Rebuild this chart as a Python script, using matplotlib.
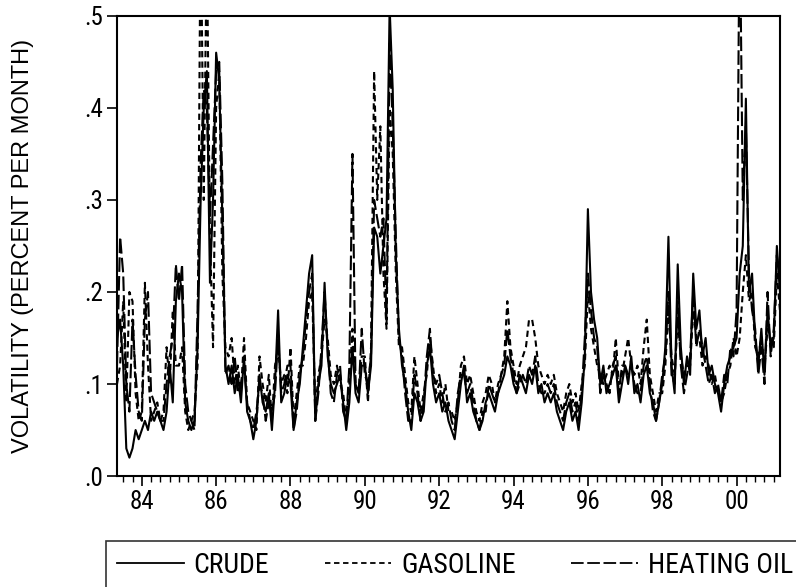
import matplotlib
matplotlib.use("Agg")
import matplotlib.pyplot as plt
import numpy as np
from matplotlib.lines import Line2D

# monthly volatility, May 1983 - Mar 2001
start_year = 1983 + 4 / 12

crude = [
    0.15, 0.17, 0.12, 0.03, 0.02, 0.03, 0.05, 0.04,                      # 83
    0.05, 0.06, 0.05, 0.07, 0.06, 0.07, 0.06, 0.05, 0.07, 0.12, 0.08, 0.19,  # 84
    0.22, 0.20, 0.08, 0.06, 0.05, 0.06, 0.14, 0.30, 0.40, 0.44, 0.21, 0.30,  # 85
    0.46, 0.43, 0.28, 0.12, 0.10, 0.12, 0.09, 0.11, 0.08, 0.13, 0.07, 0.06,  # 86
    0.04, 0.06, 0.11, 0.08, 0.07, 0.09, 0.05, 0.10, 0.18, 0.08, 0.09, 0.11,  # 87
    0.10, 0.05, 0.08, 0.10, 0.14, 0.18, 0.22, 0.24, 0.06, 0.10, 0.12, 0.21,  # 88
    0.13, 0.10, 0.09, 0.10, 0.11, 0.08, 0.05, 0.08, 0.14, 0.09, 0.08, 0.12,  # 89
    0.12, 0.09, 0.12, 0.27, 0.26, 0.22, 0.25, 0.28, 0.51, 0.42, 0.24, 0.16,  # 90
    0.12, 0.10, 0.07, 0.05, 0.09, 0.08, 0.06, 0.07, 0.12, 0.14, 0.10, 0.08,  # 91
    0.09, 0.07, 0.08, 0.06, 0.05, 0.04, 0.07, 0.10, 0.12, 0.08, 0.09, 0.07,  # 92
    0.06, 0.05, 0.06, 0.08, 0.09, 0.08, 0.07, 0.09, 0.10, 0.11, 0.13, 0.12,  # 93
    0.10, 0.09, 0.11, 0.10, 0.09, 0.11, 0.10, 0.12, 0.09, 0.10, 0.08, 0.09,  # 94
    0.08, 0.09, 0.07, 0.06, 0.05, 0.07, 0.08, 0.06, 0.07, 0.05, 0.08, 0.13,  # 95
    0.29, 0.20, 0.17, 0.15, 0.10, 0.12, 0.09, 0.10, 0.11, 0.12, 0.08, 0.10,  # 96
    0.12, 0.10, 0.13, 0.09, 0.10, 0.08, 0.11, 0.12, 0.09, 0.08, 0.06, 0.08,  # 97
    0.10, 0.14, 0.26, 0.12, 0.09, 0.23, 0.14, 0.10, 0.13, 0.11, 0.22, 0.16,  # 98
    0.18, 0.13, 0.15, 0.11, 0.12, 0.10, 0.09, 0.07, 0.10, 0.12, 0.13, 0.14,  # 99
    0.15, 0.22, 0.25, 0.41, 0.20, 0.22, 0.15, 0.12, 0.16, 0.11, 0.18, 0.14,  # 00
    0.15, 0.25, 0.20,                                                    # 01
]

gasoline = [
    0.10, 0.12, 0.19, 0.08, 0.20, 0.19, 0.09, 0.06,
    0.07, 0.21, 0.12, 0.06, 0.07, 0.08, 0.06, 0.07, 0.14, 0.10, 0.18, 0.12,
    0.12, 0.14, 0.07, 0.05, 0.06, 0.07, 0.12, 0.62, 0.30, 0.58, 0.26, 0.14,
    0.40, 0.44, 0.22, 0.14, 0.13, 0.15, 0.10, 0.12, 0.09, 0.15, 0.08, 0.07,
    0.06, 0.05, 0.13, 0.10, 0.08, 0.11, 0.06, 0.12, 0.14, 0.10, 0.11, 0.09,
    0.14, 0.06, 0.09, 0.12, 0.12, 0.15, 0.19, 0.20, 0.07, 0.11, 0.13, 0.17,
    0.15, 0.11, 0.10, 0.12, 0.10, 0.09, 0.06, 0.10, 0.16, 0.10, 0.09, 0.13,
    0.13, 0.08, 0.14, 0.44, 0.30, 0.38, 0.22, 0.16, 0.40, 0.35, 0.22, 0.14,
    0.14, 0.11, 0.08, 0.07, 0.13, 0.10, 0.07, 0.09, 0.11, 0.15, 0.12, 0.09,
    0.10, 0.08, 0.10, 0.07, 0.07, 0.06, 0.08, 0.12, 0.13, 0.10, 0.11, 0.09,
    0.07, 0.06, 0.08, 0.09, 0.11, 0.10, 0.08, 0.10, 0.11, 0.13, 0.19, 0.14,
    0.12, 0.10, 0.12, 0.13, 0.14, 0.17, 0.17, 0.15, 0.12, 0.11, 0.10, 0.11,
    0.10, 0.11, 0.09, 0.08, 0.07, 0.09, 0.10, 0.08, 0.09, 0.07, 0.10, 0.12,
    0.20, 0.16, 0.14, 0.12, 0.11, 0.10, 0.11, 0.12, 0.11, 0.15, 0.10, 0.11,
    0.13, 0.15, 0.12, 0.11, 0.12, 0.10, 0.14, 0.17, 0.11, 0.09, 0.07, 0.09,
    0.09, 0.12, 0.18, 0.13, 0.11, 0.17, 0.13, 0.11, 0.12, 0.12, 0.18, 0.15,
    0.15, 0.12, 0.13, 0.12, 0.10, 0.11, 0.09, 0.08, 0.09, 0.11, 0.12, 0.15,
    0.13, 0.15, 0.20, 0.24, 0.19, 0.20, 0.14, 0.13, 0.15, 0.12, 0.16, 0.15,
    0.14, 0.22, 0.18,
]

heating_oil = [
    0.12, 0.26, 0.22, 0.10, 0.07, 0.17, 0.11, 0.07,
    0.06, 0.17, 0.20, 0.09, 0.08, 0.07, 0.06, 0.06, 0.10, 0.13, 0.15, 0.23,
    0.19, 0.23, 0.10, 0.07, 0.06, 0.05, 0.18, 0.34, 0.42, 0.40, 0.28, 0.36,
    0.44, 0.45, 0.32, 0.11, 0.12, 0.10, 0.13, 0.09, 0.10, 0.12, 0.08, 0.06,
    0.05, 0.07, 0.10, 0.09, 0.06, 0.08, 0.07, 0.09, 0.15, 0.09, 0.10, 0.12,
    0.12, 0.05, 0.07, 0.11, 0.13, 0.17, 0.20, 0.22, 0.06, 0.09, 0.14, 0.20,
    0.14, 0.09, 0.08, 0.11, 0.12, 0.07, 0.06, 0.12, 0.35, 0.10, 0.09, 0.16,
    0.11, 0.10, 0.13, 0.30, 0.28, 0.26, 0.28, 0.17, 0.47, 0.38, 0.26, 0.15,
    0.13, 0.09, 0.06, 0.06, 0.11, 0.09, 0.06, 0.08, 0.13, 0.16, 0.11, 0.10,
    0.11, 0.09, 0.07, 0.08, 0.06, 0.05, 0.09, 0.11, 0.11, 0.09, 0.10, 0.08,
    0.06, 0.05, 0.07, 0.07, 0.10, 0.09, 0.08, 0.09, 0.11, 0.12, 0.16, 0.13,
    0.11, 0.09, 0.10, 0.11, 0.10, 0.12, 0.11, 0.13, 0.10, 0.09, 0.09, 0.10,
    0.09, 0.10, 0.08, 0.07, 0.06, 0.08, 0.09, 0.07, 0.08, 0.06, 0.09, 0.15,
    0.22, 0.18, 0.15, 0.14, 0.09, 0.11, 0.10, 0.09, 0.12, 0.13, 0.09, 0.12,
    0.12, 0.11, 0.12, 0.10, 0.09, 0.09, 0.12, 0.13, 0.10, 0.07, 0.06, 0.08,
    0.11, 0.13, 0.20, 0.11, 0.10, 0.19, 0.12, 0.09, 0.11, 0.13, 0.20, 0.14,
    0.16, 0.14, 0.12, 0.10, 0.11, 0.09, 0.10, 0.08, 0.11, 0.10, 0.14, 0.13,
    0.18, 0.62, 0.30, 0.38, 0.22, 0.18, 0.16, 0.11, 0.14, 0.10, 0.20, 0.13,
    0.16, 0.24, 0.21,
]

year_ticks = [1984, 1986, 1988, 1990, 1992, 1994, 1996, 1998, 2000]
year_labels = ["84", "86", "88", "90", "92", "94", "96", "98", "00"]
y_ticks = [0.0, 0.1, 0.2, 0.3, 0.4, 0.5]
y_labels = [".0", ".1", ".2", ".3", ".4", ".5"]

# condensed face if there is one, plain sans otherwise
narrow = ["Roboto Condensed", "Liberation Sans Narrow", "Liberation Sans", "DejaVu Sans"]
plt.rcParams["font.family"] = narrow

t = start_year + np.arange(len(crude)) / 12

fig = plt.figure(figsize=(7.96, 5.87), dpi=100)
ax = fig.add_axes([0.147, 0.189, 0.833, 0.784])

lw = 1.5
ax.plot(t, crude, color="black", lw=lw, ls="-")
ax.plot(t, gasoline, color="black", lw=lw, dashes=(3, 2))
ax.plot(t, heating_oil, color="black", lw=lw, dashes=(7, 2))

ax.set_xlim(start_year, 2001.17)
ax.set_ylim(0, 0.5)
ax.set_xticks(year_ticks)
ax.set_xticklabels(year_labels, fontsize=18)
ax.set_xticks(np.arange(1983.5, 2001.2, 0.25), minor=True)
ax.set_yticks(y_ticks)
ax.set_yticklabels(y_labels, fontsize=18)
ax.tick_params(axis="both", which="major", direction="out", length=7, width=1.2, color="black")
ax.tick_params(axis="x", which="minor", direction="out", length=4, width=1.0)
ax.tick_params(axis="x", pad=3)
ax.tick_params(axis="y", pad=3)
for s in ax.spines.values():
    s.set_linewidth(1.5)

ax.set_ylabel("VOLATILITY (PERCENT PER MONTH)", fontsize=17,
              family=["Liberation Sans", "DejaVu Sans"])
ax.yaxis.set_label_coords(-0.125, 0.5)

handles = [
    Line2D([], [], color="black", lw=1.3, ls="-"),
    Line2D([], [], color="black", lw=1.3, dashes=(3, 2)),
    Line2D([], [], color="black", lw=1.3, dashes=(7, 2)),
]
leg = fig.legend(handles, ["CRUDE", "GASOLINE", "HEATING OIL"], ncol=3,
                 loc="upper left", bbox_to_anchor=(106 / 796, 1 - 541 / 587),
                 fontsize=20, frameon=True, fancybox=False, edgecolor="black",
                 handlelength=2.4, handletextpad=0.35, columnspacing=2.0,
                 borderpad=0.4, borderaxespad=0.0)
leg.get_frame().set_linewidth(1.2)

fig.savefig("out.png", dpi=100)
